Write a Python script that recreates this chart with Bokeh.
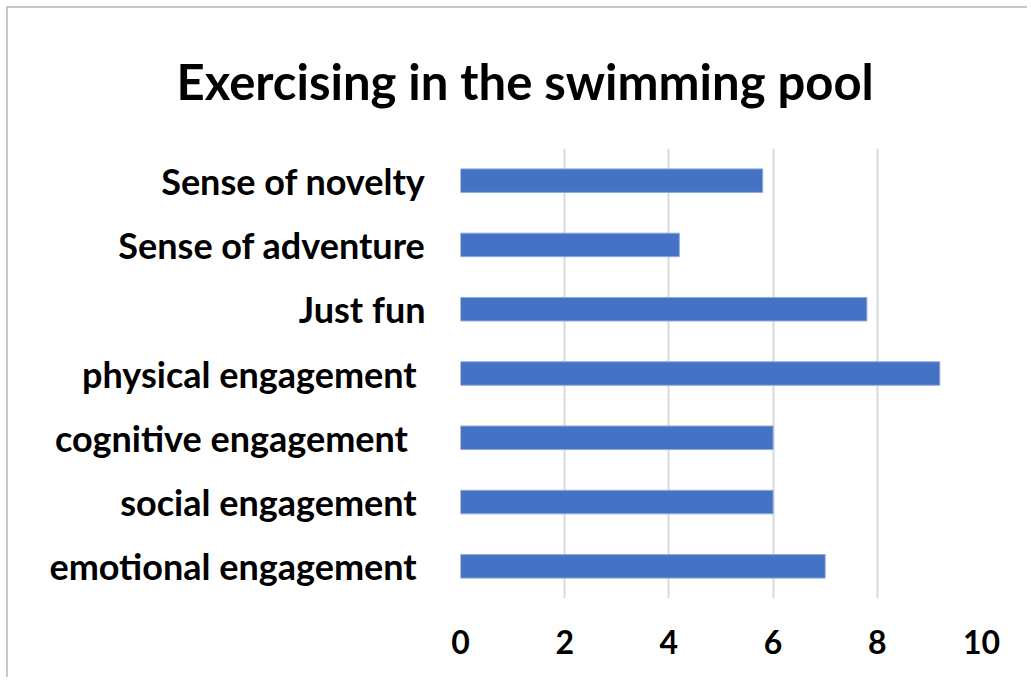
from bokeh.plotting import figure
from bokeh.models import FactorRange, Range1d, FixedTicker
from bokeh.embed import file_html
from bokeh.resources import INLINE

title_text = "Exercising in the swimming pool"
categories = [
    "Sense of novelty",
    "Sense of adventure",
    "Just fun",
    "physical engagement ",
    "cognitive  engagement ",
    "social engagement ",
    "emotional engagement ",
]
values = [5.8, 4.2, 7.8, 9.2, 6.0, 6.0, 7.0]
x_ticks = [0, 2, 4, 6, 8, 10]

FONT = "Lato"
BAR_COLOR = "#4472C4"
GRID_COLOR = "#D9D9D9"

factors_bottom_up = list(reversed(categories))

p = figure(
    width=1021, height=671,
    y_range=FactorRange(factors=factors_bottom_up, range_padding=0),
    x_range=Range1d(0, 10),
    output_backend="svg", toolbar_location=None,
    min_border_left=452, min_border_right=48,
    min_border_top=140, min_border_bottom=81,
    styles={"border-top": "2px solid #C8C8C8", "border-left": "2px solid #C8C8C8",
            "margin-left": "6px", "margin-top": "6px"},
)

p.hbar(y=categories, right=values, left=0, height=0.366,
       fill_color=BAR_COLOR, line_color="#8FAADC", line_width=1)

p.outline_line_color = None
p.background_fill_color = "white"
p.border_fill_color = "white"

# title
p.title.text = title_text
p.title.align = "left"
p.title.offset = -284
p.title.standoff = 78
p.title.text_font = FONT
p.title.text_font_style = "bold"
p.title.text_font_size = "49px"
p.title.text_color = "black"

# x axis
p.xaxis.ticker = FixedTicker(ticks=x_ticks)
p.xaxis.axis_line_color = None
p.xaxis.major_tick_line_color = None
p.xaxis.minor_tick_line_color = None
p.xaxis.major_label_text_font = FONT
p.xaxis.major_label_text_font_style = "bold"
p.xaxis.major_label_text_font_size = "32px"
p.xaxis.major_label_text_color = "black"
p.xaxis.major_label_standoff = 25

# y axis
p.yaxis.axis_line_color = None
p.yaxis.major_tick_line_color = None
p.yaxis.minor_tick_line_color = None
p.yaxis.major_label_text_font = FONT
p.yaxis.major_label_text_font_style = "bold"
p.yaxis.major_label_text_font_size = "36px"
p.yaxis.major_label_text_color = "black"
p.yaxis.major_label_standoff = 29

# grid
p.xgrid.grid_line_color = GRID_COLOR
p.xgrid.grid_line_width = 2
p.ygrid.grid_line_color = None

open("out.html", "w").write(file_html(p, INLINE))
